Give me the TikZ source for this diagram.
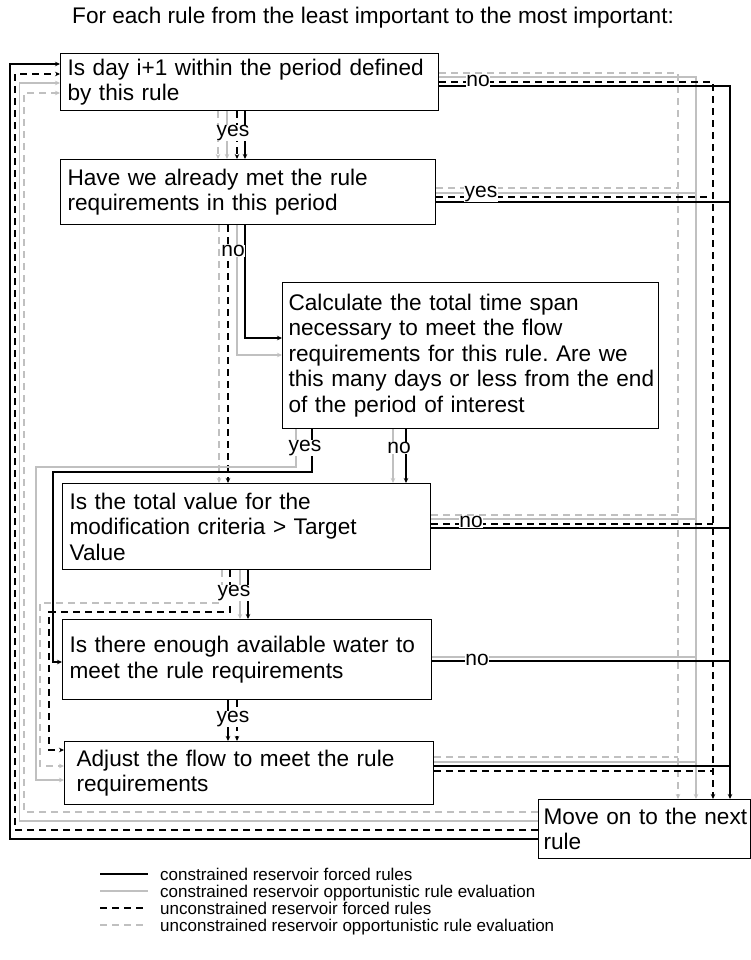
\documentclass[tikz,border=0pt]{standalone}
\usepackage{fontspec}
\setmainfont{Liberation Sans}
\usetikzlibrary{arrows.meta}
\definecolor{lgray}{RGB}{192,192,192}
\frenchspacing
\begin{document}
\begin{tikzpicture}[x=1pt,y=-1pt,
  cbs/.style={draw=black, line width=1.2pt},
  cls/.style={draw=lgray, line width=1.2pt},
  cbd/.style={draw=black, line width=1.2pt, dash pattern=on 7pt off 5pt},
  cld/.style={draw=lgray, line width=1.2pt, dash pattern=on 7pt off 5pt},
  tip/.style={-{Stealth[length=5pt,width=4.5pt]}},
  box/.style={draw, line width=1.2pt, fill=white, anchor=north west, align=left,
              inner xsep=7pt, inner ysep=0pt, font=\fontsize{22.6}{25.5}\selectfont},
  lab/.style={fill=white, inner sep=0.5pt, font=\fontsize{21}{21}\selectfont},
  leg/.style={anchor=base west, inner sep=0pt, font=\fontsize{17}{17}\selectfont}
]
\useasboundingbox (0,0) rectangle (751,960);

\node[anchor=west, inner sep=0pt, font=\fontsize{22.6}{25}\selectfont] (title) at (72,18)
  {For each rule from the least important to the most important:};

\node[box, text width=364pt, minimum height=57pt] (b1) at (60,53)
  {\mbox{Is day i+1 within the period defined}\\by this rule};
\node[box, text width=361pt, minimum height=65pt] (b2) at (60,159)
  {Have we already met the rule\\requirements in this period};
\node[box, inner xsep=6pt, text width=364pt, minimum height=146pt] (b3) at (282,282)
  {\mbox{Calculate the total time span}\\\mbox{necessary to meet the flow}\\\mbox{requirements for this rule. Are we}\\\mbox{this many days or less from the end}\\\mbox{of the period of interest}};
\node[box, text width=354pt, minimum height=86pt] (b4) at (62,483)
  {Is the total value for the\\modification criteria > Target\\Value};
\node[box, text width=355pt, minimum height=80pt] (b5) at (62,619)
  {\mbox{Is there enough available water to}\\meet the rule requirements};
\node[box, inner xsep=12pt, text width=345pt, minimum height=63pt] (b6) at (64,741)
  {\mbox{Adjust the flow to meet the rule}\\requirements};
\node[box, inner xsep=5pt, text width=202pt, minimum height=59pt] (b7) at (538,799)
  {\mbox{Move on to the next}\\rule};

% right-hand trunks
\coordinate (tLD) at (678,0);
\coordinate (tLS) at (696,0);
\coordinate (tBD) at (713,0);
\coordinate (tBS) at (730,0);

% box1 no -> next rule
\draw[cld,tip] (b1.east |- 0,73) -| (b7.north -| tLD);
\draw[cls,tip] (b1.east |- 0,77) -| (b7.north -| tLS);
\draw[cbd,tip] (b1.east |- 0,82) -| (b7.north -| tBD);
\draw[cbs,tip] (b1.east |- 0,86) -| (b7.north -| tBS);

% box2 yes -> trunks
\draw[cld] (b2.east |- 0,188) -- (tLD |- 0,188);
\draw[cls] (b2.east |- 0,193) -- (tLS |- 0,193);
\draw[cbd] (b2.east |- 0,197) -- (tBD |- 0,197);
\draw[cbs] (b2.east |- 0,202) -- (tBS |- 0,202);

% box4 no -> trunks
\draw[cld] (b4.east |- 0,515) -- (tLD |- 0,515);
\draw[cls] (b4.east |- 0,519) -- (tLS |- 0,519);
\draw[cbd] (b4.east |- 0,524) -- (tBD |- 0,524);
\draw[cbs] (b4.east |- 0,528) -- (tBS |- 0,528);

% box5 no -> trunks
\draw[cls] (b5.east |- 0,657) -- (tLS |- 0,657);
\draw[cbs] (b5.east |- 0,661) -- (tBS |- 0,661);

% box6 -> trunks
\draw[cld] (b6.east |- 0,757) -- (tLD |- 0,757);
\draw[cls] (b6.east |- 0,762) -- (tLS |- 0,762);
\draw[cbs] (b6.east |- 0,766) -- (tBS |- 0,766);
\draw[cbd] (b6.east |- 0,771) -- (tBD |- 0,771);

% next rule -> box1 loops
\draw[cld,tip] (b7.west |- 0,812) -| (24,93) -- (b1.west |- 0,93);
\draw[cls,tip] (b7.west |- 0,821) -| (19.5,83) -- (b1.west |- 0,83);
\draw[cbd,tip] (b7.west |- 0,830) -| (15,74) -- (b1.west |- 0,74);
\draw[cbs,tip] (b7.west |- 0,839) -| (10,64) -- (b1.west |- 0,64);

% box1 yes -> box2
\draw[cld,tip] (b1.south -| 218,0) -- (b2.north -| 218,0);
\draw[cls,tip] (b1.south -| 227,0) -- (b2.north -| 227,0);
\draw[cbd,tip] (b1.south -| 237,0) -- (b2.north -| 237,0);
\draw[cbs,tip] (b1.south -| 245,0) -- (b2.north -| 245,0);

% box2 no
\draw[cld,tip] (b2.south -| 219,0) -- (b4.north -| 219,0);
\draw[cbd,tip] (b2.south -| 228,0) -- (b4.north -| 228,0);
\draw[cls,tip] (b2.south -| 237,0) |- (b3.west |- 0,355);
\draw[cbs,tip] (b2.south -| 245,0) |- (b3.west |- 0,338);

% box3 yes / no
\draw[cls,tip] (b3.south -| 296,0) |- (36,467) |- (b6.west |- 0,780);
\draw[cbs,tip] (b3.south -| 312,0) |- (53,472) |- (b5.west |- 0,662);
\draw[cls,tip] (b3.south -| 393,0) -- (b4.north -| 393,0);
\draw[cbs,tip] (b3.south -| 406,0) -- (b4.north -| 406,0);

% box4 yes
\draw[cld,tip] (b4.south -| 222,0) |- (40,603) |- (b6.west |- 0,766);
\draw[cbd,tip] (b4.south -| 230,0) |- (49,612) |- (b6.west |- 0,750);
\draw[cls,tip] (b4.south -| 240,0) -- (b5.north -| 240,0);
\draw[cbs,tip] (b4.south -| 248,0) -- (b5.north -| 248,0);

% box5 yes
\draw[cbs,tip] (b5.south -| 228,0) -- (b6.north -| 228,0);
\draw[cbd,tip] (b5.south -| 237,0) -- (b6.north -| 237,0);

% labels
\node[lab] (n1) at (478,81) {no};
\node[lab] (y2) at (481,194) {yes};
\node[lab] (y1) at (233,133) {yes};
\node[lab] (n2) at (233,251) {no};
\node[lab] (y3) at (305,448) {yes};
\node[lab] (n3) at (399,448) {no};
\node[lab] (n4) at (471,522) {no};
\node[lab] (y4) at (234,593) {yes};
\node[lab] (n5) at (477,660) {no};
\node[lab] (y5) at (233,719) {yes};

% legend
\coordinate (la1) at (100,874); \coordinate (lb1) at (148,874);
\coordinate (la2) at (100,891); \coordinate (lb2) at (148,891);
\coordinate (la3) at (100,908); \coordinate (lb3) at (148,908);
\coordinate (la4) at (100,925); \coordinate (lb4) at (148,925);
\draw[cbs] (la1) -- (lb1);
\draw[cls] (la2) -- (lb2);
\draw[cbd] (la3) -- (lb3);
\draw[cld] (la4) -- (lb4);
\node[leg] (lt1) at (160,880) {constrained reservoir forced rules};
\node[leg] (lt2) at (160,897) {constrained reservoir opportunistic rule evaluation};
\node[leg] (lt3) at (160,914) {unconstrained reservoir forced rules};
\node[leg] (lt4) at (160,931) {unconstrained reservoir opportunistic rule evaluation};
\end{tikzpicture}
\end{document}
